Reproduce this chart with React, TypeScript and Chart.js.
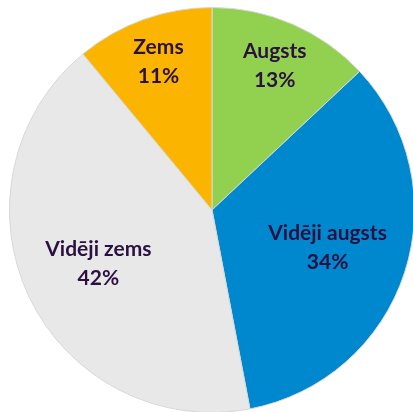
import React, { useEffect, useRef } from "react";
import { Chart, registerables } from "chart.js";

Chart.register(...registerables);

const categories = ["Augsts", "Vidēji augsts", "Vidēji zems", "Zems"];
const values = [13, 34, 42, 11];
const valueLabels = ["13%", "34%", "42%", "11%"];
const colors = ["#92d050", "#0088cf", "#e8e8e8", "#fbb400"];
const labelRadius = [0.78, 0.6, 0.62, 0.78];

const labelPlugin = {
  id: "sliceLabels",
  afterDatasetsDraw(chart: any) {
    const ctx = chart.ctx;
    const meta = chart.getDatasetMeta(0);
    ctx.save();
    ctx.fillStyle = "#2b1140";
    ctx.font = "bold 21px Lato, 'Open Sans', sans-serif";
    ctx.textAlign = "center";
    ctx.textBaseline = "middle";
    meta.data.forEach((arc: any, i: number) => {
      const p = arc.getProps(["x", "y", "startAngle", "endAngle", "outerRadius"], true);
      const mid = (p.startAngle + p.endAngle) / 2;
      const r = p.outerRadius * labelRadius[i];
      const cx = p.x + Math.cos(mid) * r;
      const cy = p.y + Math.sin(mid) * r;
      ctx.fillText(categories[i], cx, cy - 14);
      ctx.fillText(valueLabels[i], cx, cy + 15);
    });
    ctx.restore();
  },
};

export default function App() {
  const ref = useRef<HTMLCanvasElement | null>(null);
  useEffect(() => {
    document.body.style.overflow = "hidden";
    const chart = new Chart(ref.current as HTMLCanvasElement, {
      type: "pie",
      data: {
        labels: categories,
        datasets: [
          {
            data: values,
            backgroundColor: colors,
            borderColor: "#d8d8d8",
            borderWidth: 1,
          },
        ],
      },
      options: {
        animation: false,
        responsive: false,
        maintainAspectRatio: false,
        layout: { padding: 0 },
        plugins: { legend: { display: false }, tooltip: { enabled: false } },
      },
      plugins: [labelPlugin],
    });
    return () => chart.destroy();
  }, []);
  return (
    <div style={{ position: "fixed", left: 0, top: 0, width: 413, height: 412, background: "#fff", overflow: "hidden" }}>
      <canvas ref={ref} width={406} height={406} style={{ position: "absolute", left: 9, top: 7, width: 406, height: 406 }} />
    </div>
  );
}
